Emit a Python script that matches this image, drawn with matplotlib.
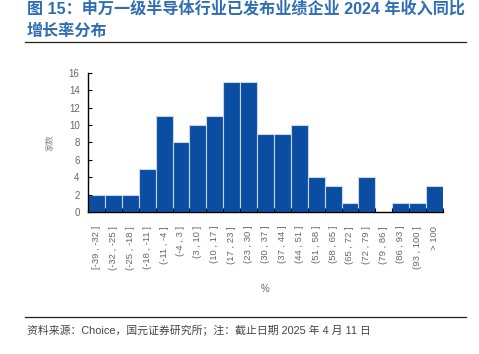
import numpy as np
import matplotlib.pyplot as plt
from matplotlib.lines import Line2D

plt.rcParams['font.family'] = ['Liberation Sans', 'Noto Sans CJK SC']

# growth-rate buckets (%) and number of companies in each
bins = ['[-39 , -32 ]', '(-32 , -25 ]', '(-25 , -18 ]', '(-18 , -11 ]', '(-11 , -4 ]',
        '(-4 , 3 ]', '(3 , 10 ]', '(10 , 17 ]', '(17 , 23 ]', '(23 , 30 ]',
        '(30 , 37 ]', '(37 , 44 ]', '(44 , 51 ]', '(51 , 58 ]', '(58 , 65 ]',
        '(65 , 72 ]', '(72 , 79 ]', '(79 , 86 ]', '(86 , 93 ]', '(93 , 100 ]', '> 100']
counts = [2, 2, 2, 5, 11, 8, 10, 11, 15, 15, 9, 9, 10, 4, 3, 1, 4, 0, 1, 1, 3]

title = '图 15：申万一级半导体行业已发布业绩企业 2024 年收入同比\n增长率分布'
source = '资料来源：Choice，国元证券研究所；注：截止日期 2025 年 4 月 11 日'

fig = plt.figure(figsize=(4.79, 3.54), dpi=100)
ax = fig.add_axes([0.1837, 0.401, 0.741, 0.393])

x = np.arange(len(bins))
ax.bar(x, counts, width=1.0, color='#0A4DA2', edgecolor='#c9d6ea', linewidth=0.8)

ax.set_xlim(-0.5, len(bins) - 0.5)
ax.set_ylim(0, 16)
ax.set_yticks(range(0, 17, 2))
ax.set_xticks(x)
ax.set_xticklabels(bins, rotation=90, fontsize=6.8, color='#666666')
ax.set_xticks(np.arange(-0.5, len(bins), 1.0), minor=True)
ax.tick_params(axis='x', which='major', length=0, pad=10)
ax.tick_params(axis='x', which='minor', direction='in', length=3, width=0.8)
ax.tick_params(axis='y', direction='in', length=3, width=0.8, labelsize=7,
               labelcolor='#666666', pad=6)
for s in ['top', 'right']:
    ax.spines[s].set_visible(False)
for s in ['left', 'bottom']:
    ax.spines[s].set_linewidth(1.0)

ax.set_ylabel('家数', fontsize=6, color='#888888', labelpad=10)
ax.set_xlabel('%', fontsize=7, color='#666666', labelpad=10)

fig.text(0.056, 0.997, title, fontsize=11.6, fontweight='bold', color='#2F6DB5',
         va='top', ha='left', linespacing=1.5)
fig.add_artist(Line2D([0.052, 0.972], [0.880, 0.880], color='#222222', lw=0.9))
fig.add_artist(Line2D([0.052, 0.972], [0.104, 0.104], color='#222222', lw=0.9))
fig.text(0.056, 0.068, source, fontsize=7.8, color='#444444', va='center', ha='left')

fig.savefig('out.png', dpi=100)
